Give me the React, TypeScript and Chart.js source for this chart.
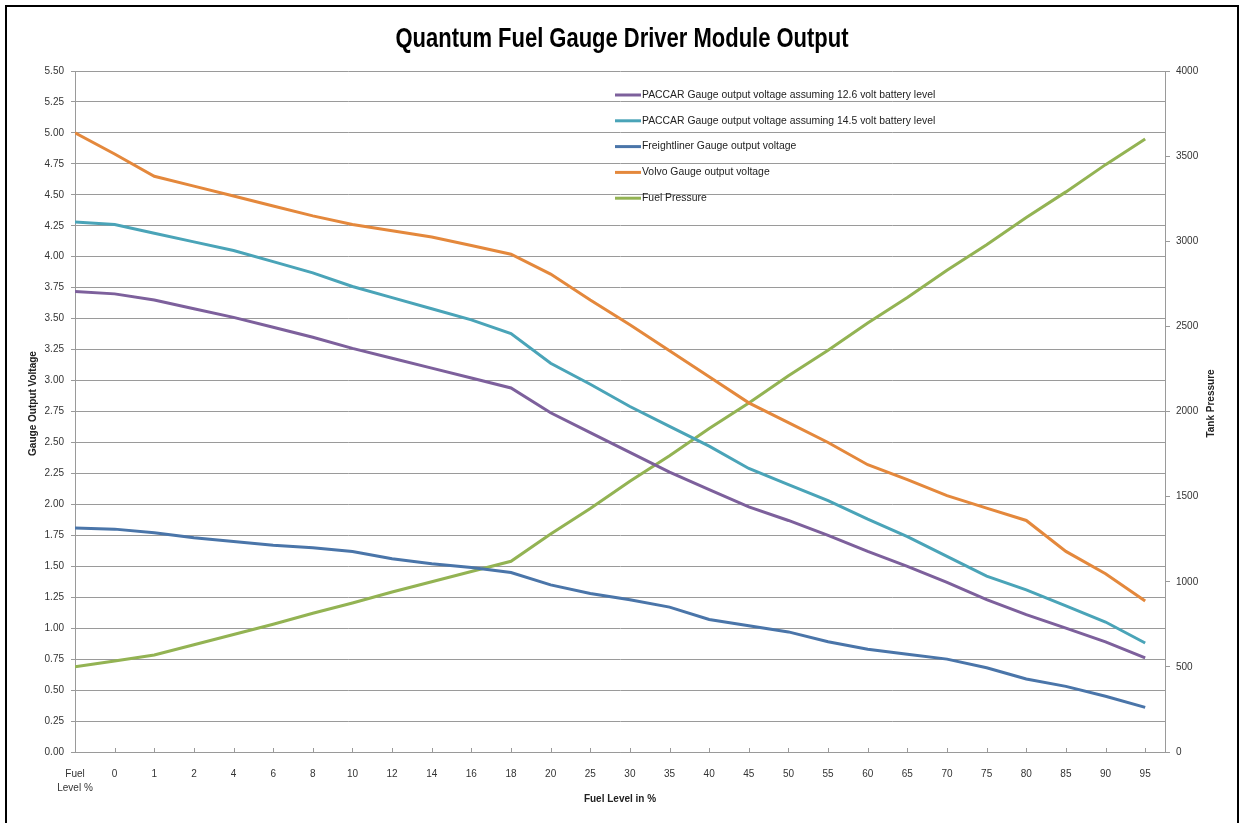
import React, { useEffect, useRef } from 'react';
import { Chart, registerables } from 'chart.js';

Chart.register(...registerables);

const categories = ['Fuel Level %', '0', '1', '2', '4', '6', '8', '10', '12', '14', '16', '18', '20', '25', '30', '35', '40', '45', '50', '55', '60', '65', '70', '75', '80', '85', '90', '95'];

const paccar126 = [3.72, 3.70, 3.65, 3.58, 3.51, 3.43, 3.35, 3.26, 3.18, 3.10, 3.02, 2.94, 2.74, 2.58, 2.42, 2.26, 2.12, 1.98, 1.87, 1.75, 1.62, 1.50, 1.37, 1.23, 1.11, 1.00, 0.89, 0.76];
const paccar145 = [4.28, 4.26, 4.19, 4.12, 4.05, 3.96, 3.87, 3.76, 3.67, 3.58, 3.49, 3.38, 3.14, 2.97, 2.79, 2.63, 2.47, 2.29, 2.16, 2.03, 1.88, 1.74, 1.58, 1.42, 1.31, 1.18, 1.05, 0.88];
const freightliner = [1.81, 1.80, 1.77, 1.73, 1.70, 1.67, 1.65, 1.62, 1.56, 1.52, 1.49, 1.45, 1.35, 1.28, 1.23, 1.17, 1.07, 1.02, 0.97, 0.89, 0.83, 0.79, 0.75, 0.68, 0.59, 0.53, 0.45, 0.36];
const volvo = [5.00, 4.83, 4.65, 4.57, 4.49, 4.41, 4.33, 4.26, 4.21, 4.16, 4.09, 4.02, 3.86, 3.65, 3.45, 3.24, 3.03, 2.82, 2.66, 2.50, 2.32, 2.20, 2.07, 1.97, 1.87, 1.62, 1.44, 1.22];
const fuelPressure = [500, 535, 570, 630, 690, 750, 815, 875, 940, 1000, 1060, 1120, 1280, 1430, 1590, 1740, 1900, 2050, 2210, 2360, 2520, 2670, 2830, 2980, 3140, 3290, 3450, 3600];

const seriesLabels = [
  'PACCAR Gauge output voltage assuming 12.6 volt battery level',
  'PACCAR Gauge output voltage assuming 14.5 volt battery level',
  'Freightliner Gauge output voltage',
  'Volvo Gauge output voltage',
  'Fuel Pressure',
];
const seriesColors = ['#7d609c', '#4aa4b8', '#4a75a9', '#e4883c', '#93b353'];

const chartTitle = 'Quantum Fuel Gauge Driver Module Output';

const FONT = '"Liberation Sans", Arial, sans-serif';
const TEXT = '#333333';
const GRID = '#9a9a9a';

const titlePlugin = {
  id: 'narrowTitle',
  afterDraw(chart: any) {
    const ctx = chart.ctx;
    ctx.save();
    ctx.font = `bold 27px ${FONT}`;
    ctx.fillStyle = '#000';
    ctx.textAlign = 'center';
    ctx.textBaseline = 'middle';
    const w = ctx.measureText(chartTitle).width;
    const sx = 453 / w;
    ctx.translate(622, 40);
    ctx.scale(sx, 1);
    ctx.fillText(chartTitle, 0, 0);
    ctx.restore();
  },
};

const legendPlugin = {
  id: 'insideLegend',
  afterDraw(chart: any) {
    const ctx = chart.ctx;
    const x0 = 615;
    const y0 = 95;
    const step = 25.8;
    ctx.save();
    chart.data.datasets.forEach((ds: any, i: number) => {
      const y = y0 + i * step;
      ctx.strokeStyle = ds.borderColor;
      ctx.lineWidth = 3;
      ctx.beginPath();
      ctx.moveTo(x0, y);
      ctx.lineTo(x0 + 26, y);
      ctx.stroke();
      ctx.fillStyle = '#222';
      ctx.font = `10.4px ${FONT}`;
      ctx.textAlign = 'left';
      ctx.textBaseline = 'middle';
      ctx.fillText(ds.label, x0 + 27, y);
    });
    ctx.restore();
  },
};

const axisTitlePlugin = {
  id: 'axisTitles',
  afterDraw(chart: any) {
    const ctx = chart.ctx;
    const area = chart.chartArea;
    const cy = (area.top + area.bottom) / 2 - 8;
    ctx.save();
    ctx.fillStyle = '#222';
    ctx.font = `bold 10px ${FONT}`;
    ctx.textAlign = 'center';
    ctx.textBaseline = 'middle';
    ctx.save();
    ctx.translate(33, cy);
    ctx.rotate(-Math.PI / 2);
    ctx.fillText('Gauge Output Voltage', 0, 0);
    ctx.restore();
    ctx.save();
    ctx.translate(chart.width - 30, cy);
    ctx.rotate(-Math.PI / 2);
    ctx.fillText('Tank Pressure', 0, 0);
    ctx.restore();
    ctx.restore();
  },
};

const xTickPlugin = {
  id: 'xInnerTicks',
  afterDraw(chart: any) {
    const ctx = chart.ctx;
    const xs = chart.scales.x;
    const bottom = chart.chartArea.bottom;
    ctx.save();
    ctx.strokeStyle = GRID;
    ctx.lineWidth = 1;
    xs.ticks.forEach((t: any) => {
      const px = Math.round(xs.getPixelForValue(t.value)) + 0.5;
      ctx.beginPath();
      ctx.moveTo(px, bottom - 4);
      ctx.lineTo(px, bottom);
      ctx.stroke();
    });
    ctx.restore();
  },
};

const toPoints = (arr: number[]) => arr.map((y, i) => ({ x: i, y }));

export default function App() {
  const ref = useRef<HTMLCanvasElement>(null);

  useEffect(() => {
    if (!ref.current) return;
    const series = [paccar126, paccar145, freightliner, volvo, fuelPressure];
    const chart = new Chart(ref.current, {
      type: 'line',
      data: {
        datasets: series.map((s, i) => ({
          label: seriesLabels[i],
          data: toPoints(s),
          borderColor: seriesColors[i],
          backgroundColor: seriesColors[i],
          borderWidth: 3,
          pointRadius: 0,
          tension: 0,
          fill: false,
          yAxisID: i === 4 ? 'y2' : 'y',
        })),
      },
      options: {
        responsive: false,
        animation: false,
        layout: { padding: { top: 71, left: 0, right: 0, bottom: 0 } },
        plugins: {
          legend: { display: false },
          tooltip: { enabled: false },
          title: { display: false },
        },
        scales: {
          x: {
            type: 'linear',
            min: 0,
            max: 27.5,
            grid: { display: false },
            border: { display: true, color: GRID },
            ticks: {
              stepSize: 1,
              autoSkip: false,
              maxRotation: 0,
              includeBounds: false,
              padding: 7,
              color: TEXT,
              font: { family: FONT, size: 10, lineHeight: 1.4 },
              callback: (v: any) => {
                const lbl = categories[v as number];
                if (lbl === undefined) return '';
                return lbl === 'Fuel Level %' ? ['Fuel', 'Level %'] : lbl;
              },
            },
            title: {
              display: true,
              text: 'Fuel Level in %',
              color: '#222',
              font: { family: FONT, size: 10, weight: 'bold' },
              padding: { top: 0, bottom: 18 },
            },
            afterFit: (s: any) => { s.height = 71; },
          },
          y: {
            position: 'left',
            min: 0,
            max: 5.5,
            grid: { color: GRID, tickLength: 4, drawTicks: true },
            border: { display: true, color: GRID },
            ticks: {
              stepSize: 0.25,
              padding: 7,
              color: TEXT,
              font: { family: FONT, size: 10 },
              callback: (v: any) => Number(v).toFixed(2),
            },
            afterFit: (s: any) => { s.width = 75; },
          },
          y2: {
            position: 'right',
            min: 0,
            max: 4000,
            grid: { drawOnChartArea: false, color: GRID, tickLength: 5 },
            border: { display: true, color: GRID },
            ticks: {
              stepSize: 500,
              padding: 6,
              color: TEXT,
              font: { family: FONT, size: 10 },
              callback: (v: any) => String(v),
            },
            afterFit: (s: any) => { s.width = 76; },
          },
        },
      },
      plugins: [titlePlugin, legendPlugin, axisTitlePlugin, xTickPlugin],
    } as any);
    return () => chart.destroy();
  }, []);

  return (
    <div style={{ position: 'absolute', left: 0, top: 0, width: 1241, height: 823, overflow: 'hidden', background: '#fff' }}>
      <canvas ref={ref} width={1241} height={823} style={{ position: 'absolute', left: 0, top: 0 }} />
      <div style={{ position: 'absolute', left: 5, top: 5, width: 1234, height: 840, border: '2px solid #000', boxSizing: 'border-box', pointerEvents: 'none' }} />
    </div>
  );
}
